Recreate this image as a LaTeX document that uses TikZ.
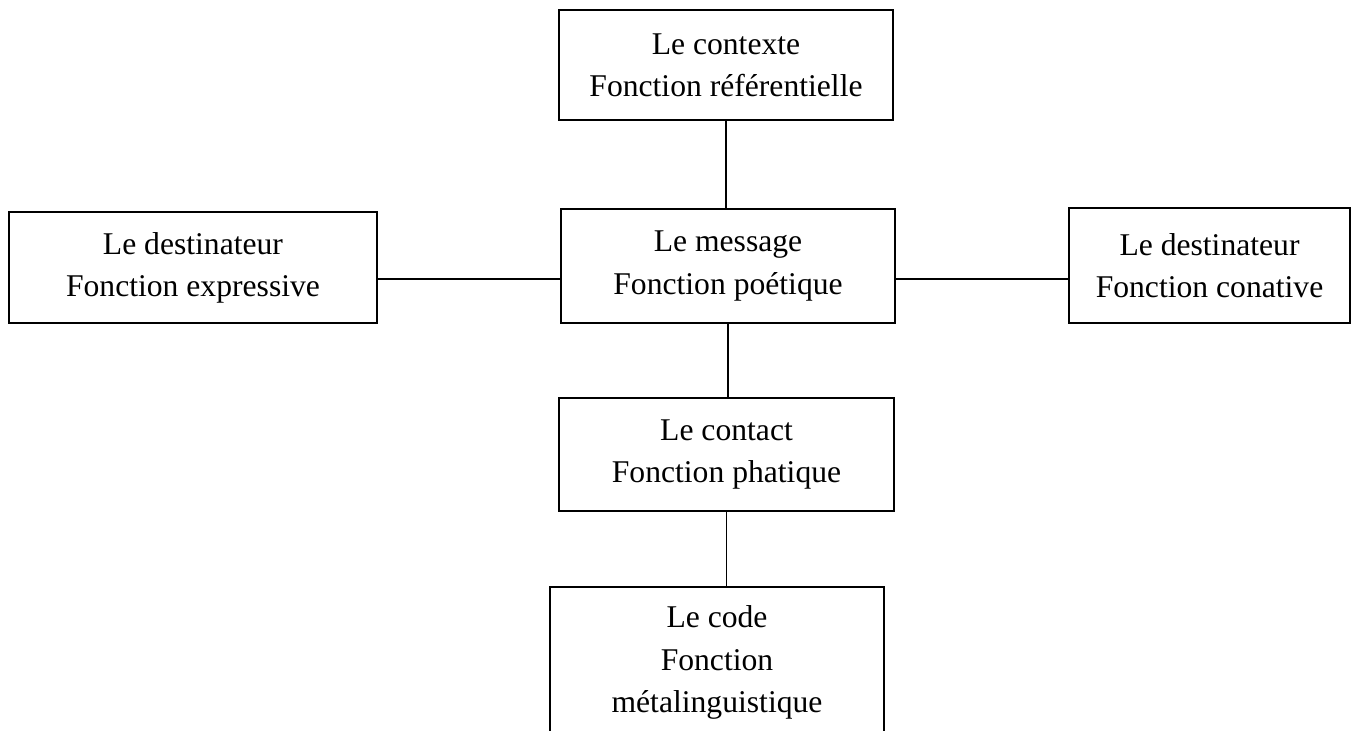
\documentclass[tikz,border=0pt]{standalone}
\usepackage{fontspec}
\setmainfont{Liberation Serif}
\tikzset{
  FuncBox/.style = {draw = black, line width = 0.8pt, align = center, inner sep = 0pt,
                    font = \fontsize{18}{24}\selectfont},
  Link/.style = {draw = black, line width = 0.8pt}
}

\begin{document}
\begin{tikzpicture}
  \clip (0,0) rectangle (27.06,-14.62);
  \node [FuncBox, minimum width = 6.68cm, minimum height = 2.20cm] (ctx) at (14.52,-1.30)
        {Le contexte\\Fonction référentielle};
  \node [FuncBox, minimum width = 6.68cm, minimum height = 2.28cm] (msg) at (14.56,-5.32)
        {Le message\\Fonction poétique};
  \node [FuncBox, minimum width = 7.36cm, minimum height = 2.22cm] (dest) at (3.86,-5.35)
        {Le destinateur\\Fonction expressive};
  \node [FuncBox, minimum width = 5.62cm, minimum height = 2.30cm] (conat) at (24.19,-5.31)
        {Le destinateur\\Fonction conative};
  \node [FuncBox, minimum width = 6.70cm, minimum height = 2.26cm] (contact) at (14.53,-9.09)
        {Le contact\\Fonction phatique};
  \node [FuncBox, minimum width = 6.68cm, minimum height = 3.02cm] (code) at (14.34,-13.25)
        {Le code\\Fonction\\métalinguistique};
  \coordinate (hline) at (0,-5.58);
  \draw [Link] (ctx.south) -- (ctx.south |- msg.north);
  \draw [Link] (dest.east |- hline) -- (msg.west |- hline);
  \draw [Link] (msg.east |- hline) -- (conat.west |- hline);
  \draw [Link] (msg.south) -- (msg.south |- contact.north);
  \draw [Link] (contact.south) -- (contact.south |- code.north);
\end{tikzpicture}
\end{document}
